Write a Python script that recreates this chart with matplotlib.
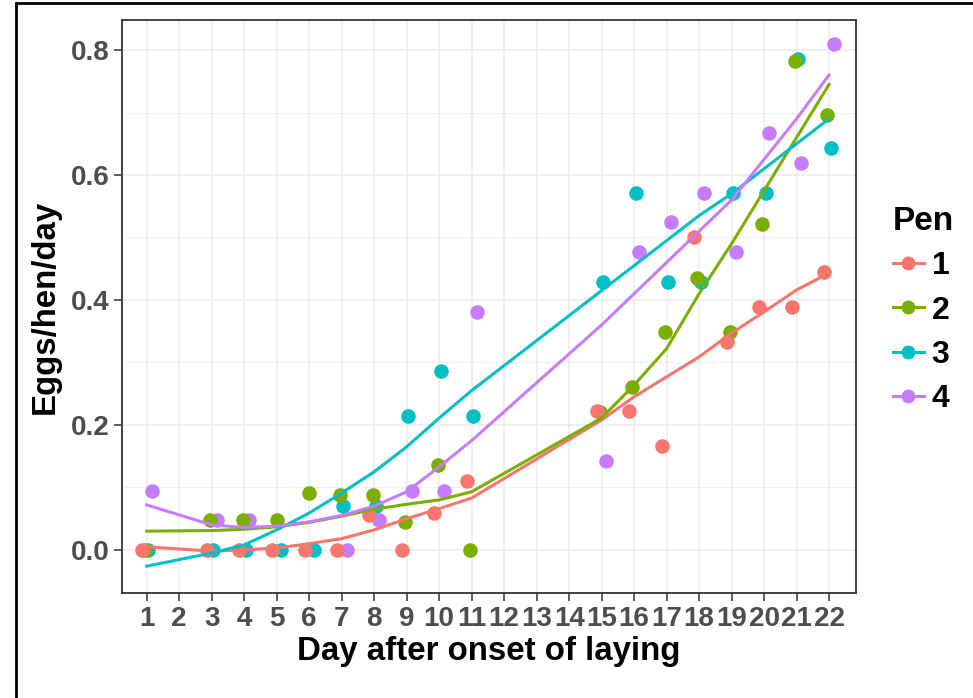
import numpy as np
import matplotlib
matplotlib.use("Agg")
import matplotlib.pyplot as plt
from matplotlib.lines import Line2D
from matplotlib.patches import Rectangle

plt.rcParams['font.family'] = ['Liberation Sans', 'DejaVu Sans']
plt.rcParams['font.weight'] = 'bold'

# days with observations
days = [1, 3, 4, 5, 6, 7, 8, 9, 10, 11, 15, 16, 17, 18, 19, 20, 21, 22]

# eggs/hen/day per pen (nan = no point that day)
pen1 = [0, 0, 0, 0, 0, 0, 0.056, 0, 0.059, 0.111, 0.222, 0.222, 0.167, 0.500, 0.333, 0.389, 0.389, 0.444]
pen2 = [0, 0.048, 0.048, 0.048, 0.091, 0.088, 0.088, 0.045, 0.136, 0, 0.22, 0.261, 0.348, 0.435, 0.348, 0.522, 0.783, 0.696]
pen3 = [0, 0, 0, 0, 0, 0.071, 0.071, 0.214, 0.286, 0.214, 0.429, 0.571, 0.429, 0.429, 0.571, 0.571, 0.786, 0.643]
pen4 = [0.095, 0.048, 0.048, np.nan, np.nan, 0, 0.048, 0.095, 0.095, 0.381, 0.143, 0.476, 0.524, 0.571, 0.476, 0.667, 0.619, 0.810]

# smoothed trend per pen
fit1 = [0.005, -0.002, 0.0, 0.003, 0.010, 0.018, 0.032, 0.050, 0.066, 0.083, 0.208, 0.245, 0.277, 0.309, 0.347, 0.381, 0.416, 0.443]
fit2 = [0.030, 0.031, 0.033, 0.037, 0.044, 0.054, 0.065, 0.073, 0.080, 0.093, 0.211, 0.264, 0.322, 0.410, 0.490, 0.575, 0.660, 0.745]
fit3 = [-0.026, -0.005, 0.008, 0.032, 0.059, 0.091, 0.125, 0.165, 0.211, 0.255, 0.415, 0.455, 0.495, 0.535, 0.570, 0.610, 0.650, 0.690]
fit4 = [0.072, 0.040, 0.036, 0.038, 0.045, 0.055, 0.070, 0.093, 0.133, 0.175, 0.360, 0.410, 0.460, 0.510, 0.560, 0.625, 0.690, 0.760]

pens = ['1', '2', '3', '4']
values = [pen1, pen2, pen3, pen4]
fits = [fit1, fit2, fit3, fit4]
colors = ['#F8766D', '#7CAE00', '#00BFC4', '#C77CFF']

fig = plt.figure(figsize=(9.73, 6.98), dpi=100)
ax = fig.add_axes([0.1254, 0.1504, 0.7544, 0.8209])

# dodge points like position_dodge(width = 0.4)
vals = np.array(values, dtype=float)
xpos = np.full(vals.shape, np.nan)
for j in range(len(days)):
    present = [i for i in range(len(pens)) if not np.isnan(vals[i, j])]
    n = len(present)
    for k, i in enumerate(present):
        xpos[i, j] = days[j] + (k - (n - 1) / 2) * 0.4 / n

# pen 1 ends up on top
for i in [3, 2, 1, 0]:
    ax.scatter(xpos[i], vals[i], s=110, color=colors[i], zorder=2, linewidths=0)
for i in range(4):
    ax.plot(days, fits[i], color=colors[i], lw=2.2, zorder=3)

ax.set_xlim(0.24, 22.83)
ax.set_ylim(-0.069, 0.848)
ax.set_xticks(range(1, 23))
ax.set_yticks([0, 0.2, 0.4, 0.6, 0.8])
ax.set_yticks([0.1, 0.3, 0.5, 0.7], minor=True)
ax.set_yticklabels(['0.0', '0.2', '0.4', '0.6', '0.8'])

ax.grid(True, which='major', color='#EBEBEB', lw=1.1, zorder=0)
ax.grid(True, which='minor', axis='y', color='#EBEBEB', lw=0.6, zorder=0)
ax.set_axisbelow(True)
for s in ax.spines.values():
    s.set_color('#333333')
    s.set_linewidth(1.3)
ax.tick_params(which='major', length=6, width=1.1, color='#333333', labelcolor='#4D4D4D', labelsize=20, pad=3)
ax.tick_params(which='minor', length=0)

ax.set_xlabel('Day after onset of laying', fontsize=23.8, fontweight='bold', labelpad=3)
ax.set_ylabel('Eggs/hen/day', fontsize=23.8, fontweight='bold', labelpad=7)

handles = [Line2D([0], [0], color=colors[i], lw=2.2, marker='o', markersize=10, markeredgewidth=0) for i in range(4)]
leg = fig.legend(handles, pens, title='Pen', loc='upper left', bbox_to_anchor=(0.918, 0.705),
                 frameon=False, fontsize=23, title_fontsize=24, handlelength=0.95, labelspacing=0.45,
                 handletextpad=0.25, borderpad=0, borderaxespad=0)
leg._legend_box.align = 'left'
leg.get_title().set_fontweight('bold')

# outer frame around the whole picture
fig.patches.append(Rectangle((16 / 973, -0.1), 1.2, (698 - 3) / 698 + 0.1, transform=fig.transFigure,
                             fill=False, edgecolor='black', lw=2))

fig.savefig('out.png', dpi=100)
